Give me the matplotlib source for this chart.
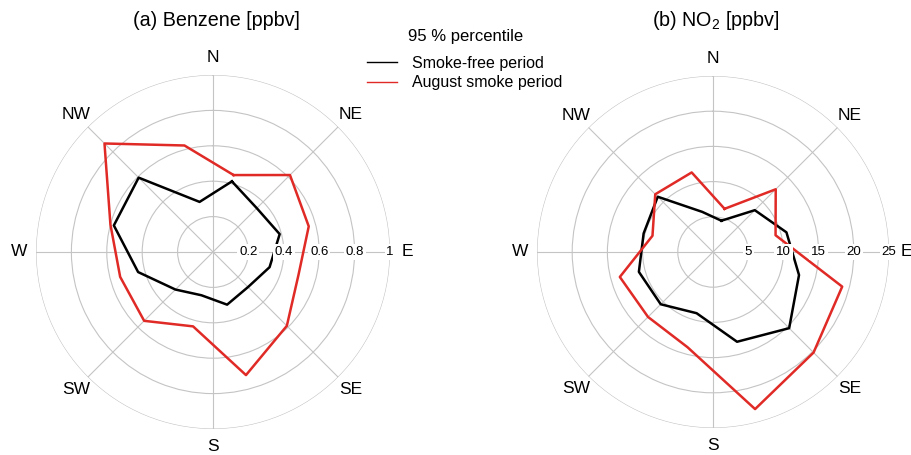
import numpy as np
import matplotlib
matplotlib.use('Agg')
import matplotlib.pyplot as plt
from matplotlib.lines import Line2D

plt.rcParams['font.family'] = ['Liberation Sans', 'DejaVu Sans']
plt.rcParams['mathtext.fontset'] = 'custom'
plt.rcParams['mathtext.rm'] = 'Liberation Sans'

# wind sectors, 30 deg wide, centred at 15, 45, ... 345 deg
sector_deg = [15, 45, 75, 105, 135, 165, 195, 225, 255, 285, 315, 345]

benzene_free = [0.413, 0.35, 0.39, 0.331, 0.28, 0.308, 0.253, 0.30, 0.438, 0.58, 0.594, 0.293]
benzene_smoke = [0.45, 0.615, 0.56, 0.50, 0.59, 0.72, 0.435, 0.55, 0.543, 0.60, 0.867, 0.623]
no2_free = [4.6, 8.4, 10.8, 12.65, 15.3, 13.2, 9.0, 10.5, 10.9, 10.2, 11.1, 5.9]
no2_smoke = [6.35, 12.6, 9.2, 19.0, 20.2, 23.1, 14.0, 13.05, 13.7, 8.9, 11.6, 11.7]

benzene_ticks = [0.2, 0.4, 0.6, 0.8, 1.0]
benzene_ticklabels = ['0.2', '0.4', '0.6', '0.8', '1']
no2_ticks = [5, 10, 15, 20, 25]
no2_ticklabels = ['5', '10', '15', '20', '25']

compass = ['N', 'NE', 'E', 'SE', 'S', 'SW', 'W', 'NW']
compass_deg = [0, 45, 90, 135, 180, 225, 270, 315]

red = '#e02a26'
grid_col = '#c4c4c4'

fig = plt.figure(figsize=(9.12, 4.55), dpi=100)
ax1 = fig.add_axes([36 / 912, 26 / 455, 354 / 912, 354 / 455], projection='polar')
ax2 = fig.add_axes([537 / 912, 27 / 455, 352 / 912, 352 / 455], projection='polar')


def rose(ax, free, smoke, ticks, ticklabels, title, title_x):
    ax.set_theta_zero_location('N')
    ax.set_theta_direction(-1)
    th = np.deg2rad(sector_deg + sector_deg[:1])
    ax.plot(th, free + free[:1], color='black', lw=1.8, zorder=3)
    ax.plot(th, smoke + smoke[:1], color=red, lw=1.8, zorder=3)
    ax.set_ylim(0, ticks[-1])
    ax.set_yticks(ticks)
    ax.set_yticklabels([])
    ax.set_xticks(np.deg2rad(compass_deg))
    ax.set_xticklabels([])
    ax.grid(True, color=grid_col, lw=0.8)
    ax.spines['polar'].set_visible(False)
    ax.set_facecolor('none')
    for r, lab in zip(ticks, ticklabels):
        ax.text(np.pi / 2, r, lab, ha='center', va='center', fontsize=9.5, zorder=5,
                bbox=dict(fc='white', ec='none', pad=1.2))
    for d, lab in zip(compass_deg, compass):
        ax.text(np.deg2rad(d), ticks[-1] * 1.097, lab, ha='center', va='center',
                fontsize=12.5, clip_on=False)
    fig.text(title_x / 912, 1 - 21 / 455, title, ha='center', va='center', fontsize=14.2)


rose(ax1, benzene_free, benzene_smoke, benzene_ticks, benzene_ticklabels,
     '(a) Benzene [ppbv]', 216)
rose(ax2, no2_free, no2_smoke, no2_ticks, no2_ticklabels,
     r'(b) NO$_2$ [ppbv]', 716)

fig.text(465.5 / 912, 1 - 36.7 / 455, '95 % percentile', ha='center', va='center', fontsize=12)
handles = [Line2D([], [], color='black', lw=1.0), Line2D([], [], color=red, lw=1.0)]
leg = fig.legend(handles, ['Smoke-free period', 'August smoke period'],
                 loc='upper center', bbox_to_anchor=(465 / 912, 1 - 48 / 455),
                 frameon=False, fontsize=11.5, handlelength=1.875,
                 handletextpad=0.92, labelspacing=0.27, borderpad=0)

fig.savefig('out.png', dpi=100)
